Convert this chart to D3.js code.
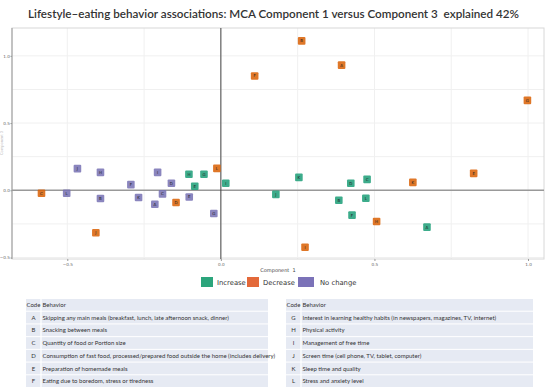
<!DOCTYPE html>
<html>
<head>
<meta charset="utf-8">
<script src="https://cdn.jsdelivr.net/npm/d3@7"></script>
<style>
  body { margin: 0; background: #fff; }
  svg { display: block; font-family: "Lato", "Open Sans", sans-serif; }
</style>
</head>
<body>
<div class="container"></div>
<script>
// behaviour codes, one point per code and per group
var codes = ["A", "B", "C", "D", "E", "F", "G", "H", "I", "J", "K", "L"];

var increaseX = [0.671, 0.384, 0.476, 0.423, -0.085, 0.427, -0.055, -0.104, 0.016, 0.179, 0.254, 0.472];
var increaseY = [-0.274, -0.074, 0.081, 0.052, 0.030, -0.185, 0.119, 0.119, 0.052, -0.030, 0.096, -0.059];

var decreaseX = [0.393, 0.263, -0.584, -0.146, 0.823, 0.110, 0.998, 0.507, 0.274, -0.407, 0.625, -0.013];
var decreaseY = [0.931, 1.111, -0.022, -0.091, 0.126, 0.850, 0.669, -0.232, -0.424, -0.316, 0.059, 0.163];

var nochangeX = [-0.215, -0.392, -0.190, -0.161, -0.103, -0.293, -0.023, -0.392, -0.206, -0.467, -0.268, -0.502];
var nochangeY = [-0.104, -0.061, -0.027, 0.052, -0.050, 0.042, -0.173, 0.133, 0.133, 0.161, -0.054, -0.022];

var groups = ["Increase", "Decrease", "No change"];
var xTicks = [-0.5, 0, 0.5, 1.0];
var yTicks = [-0.5, 0, 0.5, 1.0];

var behaviorsLeft = [
    "Skipping any main meals (breakfast, lunch, late afternoon snack, dinner)",
    "Snacking between meals",
    "Quantity of food or Portion size",
    "Consumption of fast food, processed/prepared food outside the home (includes delivery)",
    "Preparation of homemade meals",
    "Eating due to boredom, stress or tiredness"
];
var behaviorsRight = [
    "Interest in learning healthy habits (in newspapers, magazines, TV, internet)",
    "Physical activity",
    "Management of free time",
    "Screen time (cell phone, TV, tablet, computer)",
    "Sleep time and quality",
    "Stress and anxiety level"
];

var width = 550, height = 391;

var svg = d3.select(".container")
    .append("svg")
    .attr("width", width)
    .attr("height", height);

// title
svg.append("text")
    .attr("x", 28)
    .attr("y", 18)
    .attr("textLength", 491)
    .attr("lengthAdjust", "spacingAndGlyphs")
    .style("font-size", "11.5px")
    .style("font-weight", "600")
    .style("fill", "#333")
    .style("white-space", "pre")
    .text("Lifestyle\u2013eating behavior associations: MCA Component 1 versus Component 3  explained 42%");

var x = d3.scaleLinear().domain([-0.68, 1.052]).range([12, 544]);
var y = d3.scaleLinear().domain([-0.511, 1.207]).range([259, 28]);

// grid
var grid = d3.range(-0.5, 1.01, 0.25);
svg.append("g").selectAll("line")
    .data(grid)
    .enter().append("line")
    .attr("x1", function (d) { return x(d); })
    .attr("x2", function (d) { return x(d); })
    .attr("y1", y.range()[1])
    .attr("y2", y.range()[0])
    .attr("stroke", "#f0f0f0");
svg.append("g").selectAll("line")
    .data(grid)
    .enter().append("line")
    .attr("y1", function (d) { return y(d); })
    .attr("y2", function (d) { return y(d); })
    .attr("x1", x.range()[0])
    .attr("x2", x.range()[1])
    .attr("stroke", "#f0f0f0");

// frame
svg.append("rect")
    .attr("x", x.range()[0])
    .attr("y", y.range()[1])
    .attr("width", x.range()[1] - x.range()[0])
    .attr("height", y.range()[0] - y.range()[1])
    .attr("fill", "none")
    .attr("stroke", "#d8d8d8");
svg.append("line")
    .attr("x1", x.range()[0]).attr("x2", x.range()[0])
    .attr("y1", y.range()[1]).attr("y2", y.range()[0])
    .attr("stroke", "#999");

// zero lines
svg.append("line")
    .attr("x1", x.range()[0]).attr("x2", x.range()[1])
    .attr("y1", y(0)).attr("y2", y(0))
    .attr("stroke", "#999")
    .attr("stroke-width", 1.6);
svg.append("line")
    .attr("x1", x(0)).attr("x2", x(0))
    .attr("y1", y.range()[1]).attr("y2", y.range()[0])
    .attr("stroke", "#444");

// axes
var fmt = d3.format(".1f");
var xAxis = svg.append("g")
    .attr("transform", "translate(0," + y.range()[0] + ")")
    .call(d3.axisBottom(x).tickValues(xTicks).tickFormat(fmt).tickSize(2).tickPadding(2));
var yAxis = svg.append("g")
    .attr("transform", "translate(" + x.range()[0] + ",0)")
    .call(d3.axisLeft(y).tickValues(yTicks).tickFormat(fmt).tickSize(1.5).tickPadding(0.5));
[xAxis, yAxis].forEach(function (a) {
    a.select(".domain").remove();
    a.selectAll("line").attr("stroke", "#999");
    a.selectAll("text").style("font-size", "4.2px").style("fill", "#666")
        .style("font-family", "DejaVu Sans, sans-serif");
});

svg.append("text")
    .attr("x", 278)
    .attr("y", 272)
    .attr("text-anchor", "middle")
    .style("font-size", "5px")
    .style("fill", "#444")
    .style("white-space", "pre")
    .style("font-family", "DejaVu Sans, sans-serif")
    .text("Component  1");

svg.append("text")
    .attr("transform", "translate(3,143) rotate(-90)")
    .attr("text-anchor", "middle")
    .style("font-size", "4px")
    .style("fill", "#bbb")
    .text("Component 3");

// points
var color = d3.scaleOrdinal().domain(groups).range(["#1b9e77", "#d95f02", "#7570b3"]);
var seriesX = [increaseX, decreaseX, nochangeX];
var seriesY = [increaseY, decreaseY, nochangeY];
var points = [];
groups.forEach(function (g, gi) {
    codes.forEach(function (c, i) {
        points.push({ group: g, code: c, x: seriesX[gi][i], y: seriesY[gi][i] });
    });
});

var pt = svg.append("g")
    .selectAll("g")
    .data(points)
    .enter()
    .append("g")
    .attr("transform", function (d) {
        return "translate(" + x(d.x) + "," + y(d.y) + ")";
    });
pt.append("rect")
    .attr("x", -3.8).attr("y", -3.8)
    .attr("width", 7.6).attr("height", 7.6)
    .attr("rx", 1)
    .style("fill", function (d) { return color(d.group); })
    .style("opacity", 0.85);
pt.append("text")
    .attr("text-anchor", "middle")
    .attr("dy", "0.35em")
    .style("font-size", "4px")
    .style("fill", "#222")
    .style("font-family", "DejaVu Sans, sans-serif")
    .text(function (d) { return d.code; });

// legend
var legendX = [201, 247, 298];
var legendColors = ["#2ca57c", "#e3693a", "#7b72b8"];
var lg = svg.append("g")
    .selectAll("g")
    .data(groups)
    .enter()
    .append("g")
    .attr("transform", function (d, i) { return "translate(" + legendX[i] + ",277)"; });
lg.append("rect")
    .attr("width", function (d, i) { return i == 2 ? 16 : 12; })
    .attr("height", 10)
    .style("fill", function (d, i) { return legendColors[i]; });
lg.append("text")
    .attr("x", function (d, i) { return i == 2 ? 22 : 16; })
    .attr("y", 7.5)
    .style("font-size", "6.8px")
    .style("fill", "#333")
    .style("font-family", "DejaVu Sans, sans-serif")
    .text(function (d) { return d; });

// code tables
function drawTable(x0, x1, codeW, rows, rowCodes) {
    var rowY = d3.scaleBand().domain(d3.range(rows.length + 1)).range([299, 387]).paddingInner(0.08);
    var t = svg.append("g");
    var data = [{ code: "Code", text: "Behavior" }].concat(rows.map(function (r, i) {
        return { code: rowCodes[i], text: r };
    }));
    var row = t.selectAll("g")
        .data(data)
        .enter()
        .append("g")
        .attr("transform", function (d, i) { return "translate(0," + rowY(i) + ")"; });
    row.append("rect")
        .attr("x", x0)
        .attr("width", codeW - 0.6)
        .attr("height", rowY.bandwidth())
        .style("fill", "#e6eaf3");
    row.append("rect")
        .attr("x", x0 + codeW + 0.6)
        .attr("width", x1 - x0 - codeW - 0.6)
        .attr("height", rowY.bandwidth())
        .style("fill", "#e6eaf3");
    row.append("text")
        .attr("x", function (d, i) { return i == 0 ? x0 + 0.5 : x0 + codeW / 2; })
        .attr("y", rowY.bandwidth() / 2)
        .attr("dy", "0.35em")
        .attr("text-anchor", function (d, i) { return i == 0 ? "start" : "middle"; })
        .style("font-size", "6px")
        .style("fill", "#333")
        .text(function (d) { return d.code; });
    row.append("text")
        .attr("x", x0 + codeW + 1.5)
        .attr("y", rowY.bandwidth() / 2)
        .attr("dy", "0.35em")
        .style("font-size", "6px")
        .style("fill", "#333")
        .text(function (d) { return d.text; });
}
drawTable(26, 268, 15, behaviorsLeft, codes.slice(0, 6));
drawTable(286, 533, 15, behaviorsRight, codes.slice(6));
</script>
</body>
</html>
